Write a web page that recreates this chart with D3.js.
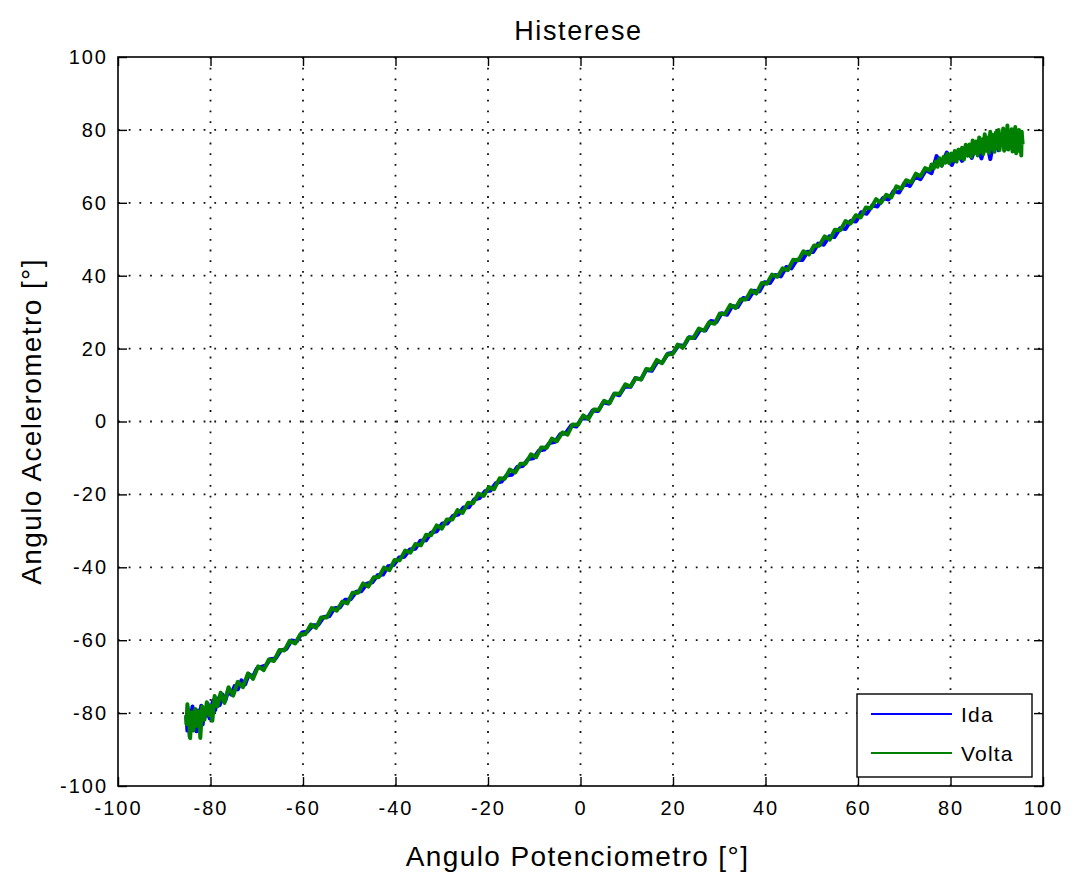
<!DOCTYPE html>
<html>
<head>
<meta charset="utf-8">
<script src="https://cdn.jsdelivr.net/npm/d3@7"></script>
<style>
  html, body { margin: 0; padding: 0; background: #fff; }
  svg { display: block; }
  text { font-family: "Liberation Sans", Arial, Helvetica, sans-serif; fill: #000; }
</style>
</head>
<body>
<svg id="chart" width="1072" height="872"></svg>
<script>
// Hysteresis test: accelerometer angle versus potentiometer angle,
// forward sweep ("Ida") and return sweep ("Volta").

const chartTitle = "Histerese";
const xLabel = "Angulo Potenciometro [°]";
const yLabel = "Angulo Acelerometro [°]";
const xTicks = [-100, -80, -60, -40, -20, 0, 20, 40, 60, 80, 100];
const yTicks = [-100, -80, -60, -40, -20, 0, 20, 40, 60, 80, 100];
const seriesNames = ["Ida", "Volta"];
const seriesColors = ["#0000ff", "#008000"];

// Forward sweep: [potentiometer angle, accelerometer angle]
const ida = [
  [-85.2,-80.5],[-85.0,-84.8],[-84.7,-79.6],[-84.5,-86.5],[-84.2,-81.0],[-83.9,-78.2],
  [-83.6,-83.9],[-83.3,-80.1],[-83.0,-85.0],[-82.7,-79.3],[-82.4,-82.2],[-82.0,-78.0],
  [-81.7,-83.1],[-81.3,-79.0],[-81.0,-80.8],[-80.6,-77.4],[-80.2,-81.5],[-79.8,-78.3],
  [-79.4,-76.5],[-79.0,-79.2],[-78.5,-76.0],[-78.0,-77.8],[-77.4,-74.9],[-76.8,-76.6],
  [-76.2,-74.0],[-75.5,-74.9],[-74.8,-72.6],[-74.1,-73.5],[-73.3,-71.0],[-72.5,-72.1],
  [-71.7,-69.3],[-70.8,-70.0],[-70.0,-67.8],[-69.2,-67.4],[-68.0,-66.9],[-67.1,-65.2],
  [-65.9,-65.0],[-64.8,-62.8],[-63.6,-62.4],[-62.5,-60.1],[-61.3,-60.3],[-60.2,-57.9],
  [-59.0,-57.6],[-57.8,-55.9],[-56.7,-55.8],[-55.5,-53.6],[-54.3,-53.4],[-53.2,-51.2],
  [-52.0,-51.0],[-50.9,-48.9],[-49.7,-48.8],[-48.5,-46.7],[-47.4,-46.6],[-46.2,-44.5],
  [-45.0,-44.1],[-43.9,-42.2],[-42.7,-42.0],[-41.6,-39.7],[-40.4,-39.4],[-39.2,-37.3],
  [-38.1,-37.1],[-36.9,-35.1],[-35.7,-34.9],[-34.6,-32.7],[-33.4,-32.6],[-32.3,-30.5],
  [-31.1,-30.1],[-29.9,-28.0],[-28.8,-28.0],[-27.6,-25.9],[-26.4,-25.5],[-25.3,-23.6],
  [-24.1,-23.5],[-23.0,-21.4],[-21.8,-21.0],[-20.6,-19.1],[-19.5,-19.0],[-18.3,-16.9],
  [-17.1,-16.5],[-16.0,-14.8],[-14.8,-14.6],[-13.7,-12.5],[-12.5,-12.2],[-11.3,-10.3],
  [-10.2,-10.1],[-9.0,-8.0],[-7.8,-7.7],[-6.7,-5.9],[-5.5,-5.6],[-4.4,-3.5],
  [-3.2,-3.2],[-2.0,-1.1],[-0.9,-1.4],[0.3,0.9],[1.5,0.8],[2.6,3.0],
  [3.8,2.9],[4.9,5.2],[6.1,4.9],[7.3,7.6],[8.4,7.2],[9.6,9.6],
  [10.8,9.5],[11.9,11.9],[13.1,11.6],[14.2,14.1],[15.4,13.9],[16.6,16.4],
  [17.7,16.2],[18.9,18.6],[20.1,18.9],[21.2,20.9],[22.4,20.8],[23.5,23.1],
  [24.7,22.9],[25.9,25.2],[27.0,25.0],[28.2,27.6],[29.4,27.3],[30.5,29.7],
  [31.7,29.3],[32.8,31.7],[34.0,31.4],[35.2,33.9],[36.3,33.6],[37.5,35.9],
  [38.7,35.7],[39.8,38.2],[41.0,38.0],[42.1,40.2],[43.3,39.8],[44.5,42.4],
  [45.6,42.0],[46.8,44.4],[48.0,44.3],[49.1,46.6],[50.3,46.5],[51.4,48.8],
  [52.6,48.5],[53.8,50.8],[54.9,50.6],[56.1,53.0],[57.3,52.8],[58.4,55.0],
  [59.6,54.9],[60.7,57.4],[61.9,57.0],[63.1,59.3],[64.2,59.0],[65.4,61.3],
  [66.6,60.9],[67.7,63.2],[68.9,62.8],[70.0,65.3],[71.2,64.6],[72.4,67.2],
  [73.5,66.5],[74.7,69.0],[75.9,68.1],[77.0,72.8],[78.1,70.2],[79.2,73.8],
  [80.3,70.4],[81.4,73.8],[82.5,71.5],[83.6,74.9],[84.6,72.3],[85.7,76.3],
  [86.7,72.2],[87.7,77.8],[88.6,72.0],[89.5,78.2],[90.4,74.4],[91.2,79.0],
  [92.0,74.9],[92.8,78.5],[93.5,75.5],[94.1,79.3],[94.6,74.6],[95.0,78.1]
];

// Return sweep: [potentiometer angle, accelerometer angle]
const volta = [
  [95.6,76.0],[95.4,79.5],[95.3,73.0],[95.1,78.8],[94.9,74.2],[94.8,80.0],
  [94.6,75.5],[94.4,78.0],[94.2,73.6],[94.0,80.8],[93.8,75.0],[93.6,78.9],
  [93.4,74.1],[93.2,80.2],[93.0,76.2],[92.8,79.0],[92.5,74.6],[92.3,81.2],
  [92.1,75.4],[91.9,79.8],[91.6,74.3],[91.4,80.4],[91.1,75.9],[90.9,78.6],
  [90.6,74.5],[90.4,80.0],[90.1,75.2],[89.8,79.3],[89.5,74.0],[89.2,78.6],
  [88.9,74.8],[88.6,79.5],[88.3,73.7],[88.0,77.9],[87.7,74.3],[87.4,78.8],
  [87.1,73.4],[86.8,77.4],[86.5,74.0],[86.2,77.9],[85.9,73.0],[85.5,76.8],
  [85.2,73.6],[84.8,77.1],[84.5,72.6],[84.1,76.0],[83.7,72.9],[83.3,75.9],
  [82.9,71.9],[82.5,75.1],[82.1,72.3],[81.7,74.6],[81.3,71.3],[80.9,74.2],
  [80.5,71.6],[80.1,73.5],[79.7,70.9],[79.3,73.4],[78.9,71.0],[78.5,72.6],
  [78.1,70.2],[77.6,72.2],[77.2,69.9],[76.8,71.3],[76.4,69.5],[75.9,70.5],
  [75.5,68.9],[74.5,69.5],[73.5,67.3],
  [72.5,68.0],[71.5,65.6],[70.4,66.2],[69.4,63.9],[68.3,64.5],[67.2,61.5],
  [66.1,62.2],[65.0,60.0],[63.9,61.0],[62.8,58.5],[61.7,58.7],[60.6,56.0],
  [59.5,56.6],[58.4,54.3],[57.3,55.0],[56.2,52.5],[55.0,52.6],[53.9,49.9],
  [52.8,50.8],[51.6,48.2],[50.5,48.3],[49.4,45.8],[48.2,46.7],[47.1,44.2],
  [46.0,44.4],[44.8,41.5],[43.7,42.0],[42.6,39.7],[41.4,40.3],[40.3,37.8],
  [39.2,38.0],[38.0,35.1],[36.9,36.0],[35.8,33.5],[34.6,33.5],[33.5,31.1],
  [32.4,32.0],[31.2,29.4],[30.1,29.6],[29.0,26.8],[27.8,27.2],[26.7,24.9],
  [25.6,25.5],[24.4,22.9],[23.3,23.0],[22.1,20.2],[21.0,21.1],[19.9,18.5],
  [18.7,18.4],[17.6,16.0],[16.5,16.9],[15.3,14.2],[14.2,14.4],[13.1,11.5],
  [11.9,11.9],[10.8,9.6],[9.7,10.2],[8.5,7.6],[7.4,7.7],[6.3,5.0],
  [5.1,5.7],[4.0,3.2],[2.9,3.3],[1.7,0.7],[0.6,1.7],[-0.5,-0.9],
  [-1.7,-0.8],[-2.8,-3.6],[-3.9,-3.0],[-5.1,-5.4],[-6.2,-4.7],[-7.3,-7.2],
  [-8.5,-7.1],[-9.6,-9.8],[-10.7,-9.0],[-11.9,-11.6],[-13.0,-11.6],[-14.1,-14.0],
  [-15.3,-13.2],[-16.4,-15.7],[-17.5,-15.6],[-18.7,-18.6],[-19.8,-18.0],[-20.9,-20.4],
  [-22.1,-19.8],[-23.2,-22.4],[-24.3,-22.3],[-25.5,-25.1],[-26.6,-24.3],[-27.7,-26.9],
  [-28.9,-26.9],[-30.0,-29.4],[-31.1,-28.5],[-32.3,-31.2],[-33.4,-31.1],[-34.5,-34.0],
  [-35.7,-33.6],[-36.8,-36.0],[-37.9,-35.4],[-39.1,-38.1],[-40.2,-38.0],[-41.3,-40.8],
  [-42.5,-40.1],[-43.6,-42.7],[-44.7,-42.7],[-45.9,-45.3],[-47.0,-44.4],[-48.1,-47.0],
  [-49.3,-47.0],[-50.4,-49.9],[-51.5,-49.4],[-52.7,-51.9],[-53.8,-51.2],[-54.9,-53.8],
  [-56.1,-53.8],[-57.2,-56.6],[-58.3,-55.7],[-59.5,-58.4],[-60.6,-58.4],[-61.7,-60.9],
  [-62.9,-60.2],[-64.0,-62.8],[-65.1,-62.7],[-66.3,-65.7],[-67.4,-65.3],[-68.5,-68.2],
  [-69.7,-67.2],[-70.8,-70.6],[-71.9,-69.1],[-73.0,-72.9],[-74.1,-71.4],[-75.1,-75.2],
  [-76.1,-72.9],[-77.0,-77.2],[-77.8,-74.4],[-78.5,-78.1],[-79.1,-75.3],[-79.6,-82.1],
  [-79.9,-78.0],[-80.3,-80.5],[-80.8,-77.0],[-81.3,-81.8],[-81.8,-78.2],[-82.2,-86.8],
  [-82.5,-79.5],[-82.9,-83.5],[-83.3,-78.9],[-83.7,-84.8],[-84.1,-79.8],[-84.4,-86.9],
  [-84.7,-80.5],[-85.0,-77.6],[-85.2,-83.0],[-85.3,-80.8]
];

const plot = { left: 118, right: 1043, top: 57, bottom: 786 };

const svg = d3.select("#chart");

const x = d3.scaleLinear().domain([-100, 100]).range([plot.left, plot.right]);
const y = d3.scaleLinear().domain([-100, 100]).range([plot.bottom, plot.top]);

// Dotted grid
const grid = svg.append("g").attr("class", "grid")
  .attr("stroke", "#111").attr("stroke-width", 1.8)
  .attr("stroke-dasharray", "1.8,8.9");
grid.selectAll("line.gx").data(xTicks.slice(1, -1)).join("line")
  .attr("class", "gx")
  .attr("x1", d => x(d)).attr("x2", d => x(d))
  .attr("y1", plot.top).attr("y2", plot.bottom);
grid.selectAll("line.gy").data(yTicks.slice(1, -1)).join("line")
  .attr("class", "gy")
  .attr("x1", plot.left).attr("x2", plot.right)
  .attr("y1", d => y(d)).attr("y2", d => y(d));

// Data traces
const line = d3.line().x(d => x(d[0])).y(d => y(d[1]));
svg.append("clipPath").attr("id", "plotclip")
  .append("rect").attr("x", plot.left).attr("y", plot.top)
  .attr("width", plot.right - plot.left).attr("height", plot.bottom - plot.top);
const traces = svg.append("g").attr("clip-path", "url(#plotclip)");
[ida, volta].forEach((s, i) => {
  traces.append("path").datum(s)
    .attr("d", line)
    .attr("fill", "none")
    .attr("stroke", seriesColors[i])
    .attr("stroke-width", 4)
    .attr("stroke-linejoin", "round");
});

// Axes with inward ticks on all four sides
const tickLen = 9;
const fmt = d => String(d);
const axisStyle = g => {
  g.select(".domain").remove();
  g.selectAll(".tick line").attr("stroke", "#000").attr("stroke-width", 1.4);
  g.selectAll(".tick text")
    .style("font-size", "20px")
    .style("letter-spacing", "2px")
    .attr("fill", "#000");
};

svg.append("g").attr("transform", `translate(0,${plot.bottom})`)
  .call(d3.axisBottom(x).tickValues(xTicks).tickFormat(fmt).tickSizeInner(-tickLen).tickPadding(11))
  .call(axisStyle)
  .selectAll(".tick text").attr("dy", "0.9em");
svg.append("g").attr("transform", `translate(0,${plot.top})`)
  .call(d3.axisTop(x).tickValues(xTicks).tickFormat("").tickSizeInner(-tickLen))
  .call(axisStyle);
svg.append("g").attr("transform", `translate(${plot.left},0)`)
  .call(d3.axisLeft(y).tickValues(yTicks).tickFormat(fmt).tickSizeInner(-tickLen).tickPadding(10))
  .call(axisStyle);
svg.append("g").attr("transform", `translate(${plot.right},0)`)
  .call(d3.axisRight(y).tickValues(yTicks).tickFormat("").tickSizeInner(-tickLen))
  .call(axisStyle);

// Axes box
svg.append("rect")
  .attr("x", plot.left).attr("y", plot.top)
  .attr("width", plot.right - plot.left).attr("height", plot.bottom - plot.top)
  .attr("fill", "none").attr("stroke", "#000").attr("stroke-width", 1.6);

// Title and axis labels
svg.append("text")
  .attr("x", (plot.left + plot.right) / 2 - 2).attr("y", 40)
  .attr("text-anchor", "middle")
  .style("font-size", "27px").style("letter-spacing", "1.6px")
  .text(chartTitle);
svg.append("text")
  .attr("x", (plot.left + plot.right) / 2 - 3).attr("y", 866)
  .attr("text-anchor", "middle")
  .style("font-size", "28px").style("letter-spacing", "1.4px")
  .text(xLabel);
svg.append("text")
  .attr("transform", `translate(41,${(plot.top + plot.bottom) / 2}) rotate(-90)`)
  .attr("text-anchor", "middle")
  .style("font-size", "28px").style("letter-spacing", "1.4px")
  .text(yLabel);

// Legend
const legend = { x: 857, y: 694, w: 175, h: 83 };
const lg = svg.append("g");
lg.append("rect")
  .attr("x", legend.x).attr("y", legend.y)
  .attr("width", legend.w).attr("height", legend.h)
  .attr("fill", "#fff").attr("stroke", "#000").attr("stroke-width", 1.4);
seriesNames.forEach((name, i) => {
  const ly = legend.y + 20 + i * 39;
  lg.append("line")
    .attr("x1", legend.x + 14).attr("x2", legend.x + 95)
    .attr("y1", ly).attr("y2", ly)
    .attr("stroke", seriesColors[i]).attr("stroke-width", 1.8);
  lg.append("text")
    .attr("x", legend.x + 104).attr("y", ly)
    .attr("dy", "0.36em")
    .style("font-size", "21px").style("letter-spacing", "1.2px")
    .text(name);
});
</script>
</body>
</html>
